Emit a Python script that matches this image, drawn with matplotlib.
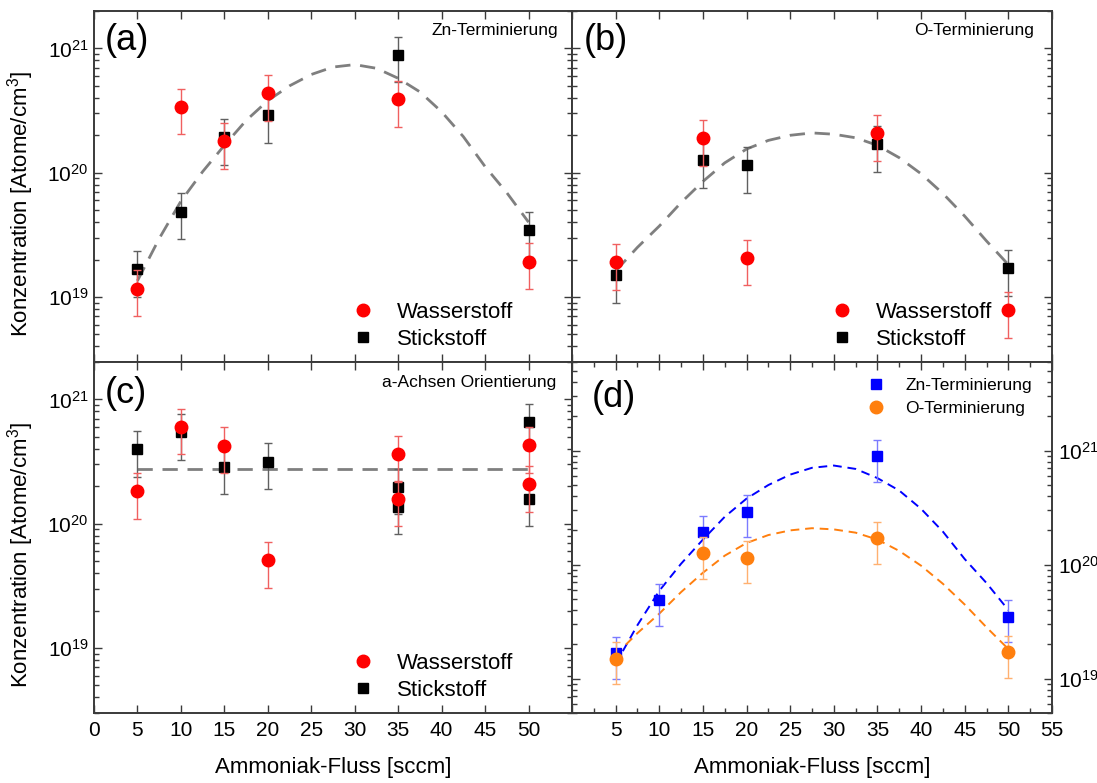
import numpy as np
import matplotlib
matplotlib.use("Agg")
import matplotlib.pyplot as plt
from matplotlib.ticker import FixedLocator, MultipleLocator, NullFormatter, LogFormatterMathtext

plt.rcParams['font.family'] = ['Liberation Sans', 'DejaVu Sans']
plt.rcParams['mathtext.fontset'] = 'custom'
plt.rcParams['mathtext.rm'] = 'Liberation Sans'
plt.rcParams['mathtext.it'] = 'Liberation Sans:italic'
plt.rcParams['mathtext.bf'] = 'Liberation Sans:bold'

# ---- data (Atome/cm^3 vs. Ammoniak-Fluss in sccm) ----
flow = [5, 10, 15, 20, 35, 50]

# (a) Zn-Terminierung
zn_h = [1.17e19, 3.39e20, 1.80e20, 4.34e20, 3.91e20, 1.93e19]
zn_n = [1.67e19, 4.87e19, 1.92e20, 2.90e20, 8.90e20, 3.48e19]

# (b) O-Terminierung
o_flow = [5, 15, 20, 35, 50]
o_h = [1.91e19, 1.90e20, 2.07e19, 2.08e20, 7.8e18]
o_n = [1.50e19, 1.26e20, 1.15e20, 1.70e20, 1.70e19]

# (c) a-Achsen Orientierung
a_flow = [5, 10, 15, 20, 35, 35, 50, 50]
a_h = [1.82e20, 6.03e20, 4.25e20, 5.06e19, 3.62e20, 1.59e20, 4.30e20, 2.08e20]
a_n = [3.97e20, 5.47e20, 2.88e20, 3.16e20, 1.98e20, 1.37e20, 6.58e20, 1.59e20]
a_level = 2.77e20

rel_err = 0.4

# dashed guide curves
fit_x = [5, 7.5, 10, 12.5, 15, 17.5, 20, 22.5, 25, 27.5, 30, 32.5, 35, 37.5,
         40, 42.5, 45, 47.5, 50]
fit_zn = [1.35e19, 2.95e19, 5.9e19, 1.02e20, 1.66e20, 2.63e20, 3.8e20, 5.0e20,
          6.17e20, 7.08e20, 7.41e20, 6.92e20, 5.75e20, 4.47e20, 3.09e20,
          1.95e20, 1.12e20, 6.9e19, 4.0e19]
fit_o = [1.62e19, 2.51e19, 3.72e19, 5.75e19, 8.5e19, 1.20e20, 1.55e20, 1.82e20,
         2.0e20, 2.09e20, 2.04e20, 1.91e20, 1.66e20, 1.32e20, 9.8e19, 6.8e19,
         4.47e19, 2.82e19, 1.82e19]

W, H = 1097, 783
fig = plt.figure(figsize=(W / 100, H / 100), dpi=100)

SPINE = '#3a3a3a'
RED = '#ff0000'
RED_ERR = '#f06060'
BLK_ERR = '#606060'
GREY_FIT = '#7f7f7f'

major_y = [10.0 ** e for e in range(17, 24)]
minor_y = [m * 10.0 ** e for e in range(17, 23) for m in range(2, 10)]


def panel(rect):
    return fig.add_axes([rect[0] / W, 1 - (rect[1] + rect[3]) / H, rect[2] / W, rect[3] / H])


def style(ax, ylim, xminor=False):
    ax.set_yscale('log')
    ax.set_xlim(0, 55)
    ax.set_ylim(*ylim)
    ax.set_xticks(range(0, 56, 5))
    if xminor:
        ax.xaxis.set_minor_locator(MultipleLocator(2.5))
    ax.yaxis.set_major_locator(FixedLocator(major_y))
    ax.yaxis.set_minor_locator(FixedLocator(minor_y))
    ax.yaxis.set_minor_formatter(NullFormatter())
    ax.yaxis.set_major_formatter(LogFormatterMathtext())
    ax.tick_params(which='both', direction='in', top=True, right=True,
                   color=SPINE, labelsize=15, pad=4)
    ax.tick_params(axis='x', pad=6)
    ax.tick_params(which='major', length=6, width=1)
    ax.tick_params(which='minor', length=3.5, width=1)
    for s in ax.spines.values():
        s.set_color(SPINE)
        s.set_linewidth(1.4)


def hn_points(ax, x, h, n):
    ax.errorbar(x, n, yerr=[rel_err * v for v in n], fmt='none', ecolor=BLK_ERR,
                elinewidth=1, capsize=3, capthick=1, zorder=2)
    ax.plot(x, n, 's', color='black', ms=7.5, label='Stickstoff', zorder=3)
    ax.errorbar(x, h, yerr=[rel_err * v for v in h], fmt='none', ecolor=RED_ERR,
                elinewidth=1, capsize=3, capthick=1, zorder=4)
    ax.plot(x, h, 'o', color=RED, ms=9, label='Wasserstoff', zorder=5)
    hs, ls = ax.get_legend_handles_labels()
    ax.legend(hs[::-1], ls[::-1], loc='lower left', bbox_to_anchor=(0.54, 0.035),
              frameon=False, fontsize=16, borderpad=0, borderaxespad=0,
              handlelength=1.0, handletextpad=1.0, labelspacing=0.25)


ylim_left = (3e18, 2e21)
ylim_d = (5e18, 6e21)
xt_left = [str(v) for v in range(0, 55, 5)] + ['']
xt_right = [''] + [str(v) for v in range(5, 56, 5)]
fit_style = dict(color=GREY_FIT, lw=2.0, dashes=(5.5, 3.5), zorder=1)

# (a)
ax_a = panel((94, 11, 478, 351))
style(ax_a, ylim_left)
ax_a.plot(fit_x, fit_zn, **fit_style)
hn_points(ax_a, flow, zn_h, zn_n)
ax_a.set_xticklabels([])
ax_a.set_ylabel('Konzentration [Atome/cm$^3$]', fontsize=16)
ax_a.yaxis.set_label_coords(-0.121, 0.45)
ax_a.text(0.023, 0.915, '(a)', transform=ax_a.transAxes, fontsize=26, va='center')
ax_a.text(0.972, 0.945, 'Zn-Terminierung', transform=ax_a.transAxes, fontsize=12.5,
          ha='right', va='center')

# (b)
ax_b = panel((572, 11, 480, 351))
style(ax_b, ylim_left)
ax_b.plot(fit_x, fit_o, **fit_style)
hn_points(ax_b, o_flow, o_h, o_n)
ax_b.set_xticklabels([])
ax_b.set_yticklabels([])
ax_b.text(0.025, 0.915, '(b)', transform=ax_b.transAxes, fontsize=26, va='center')
ax_b.text(0.962, 0.945, 'O-Terminierung', transform=ax_b.transAxes, fontsize=12.5,
          ha='right', va='center')

# (c)
ax_c = panel((94, 362, 478, 351))
style(ax_c, ylim_left)
ax_c.plot([a_flow[0], a_flow[-1]], [a_level, a_level], **fit_style)
hn_points(ax_c, a_flow, a_h, a_n)
ax_c.set_xticklabels(xt_left)
ax_c.set_xlabel('Ammoniak-Fluss [sccm]', fontsize=16, labelpad=12)
ax_c.set_ylabel('Konzentration [Atome/cm$^3$]', fontsize=16)
ax_c.yaxis.set_label_coords(-0.121, 0.45)
ax_c.text(0.023, 0.91, '(c)', transform=ax_c.transAxes, fontsize=26, va='center')
ax_c.text(0.967, 0.943, 'a-Achsen Orientierung', transform=ax_c.transAxes, fontsize=12.5,
          ha='right', va='center')

# (d)
ax_d = panel((572, 362, 480, 351))
style(ax_d, ylim_d, xminor=True)
ax_d.plot(fit_x, fit_zn, color='#0000ff', lw=1.4, dashes=(4.5, 3), zorder=1)
ax_d.plot(fit_x, fit_o, color='#ff7f0e', lw=1.4, dashes=(4.5, 3), zorder=1)
ax_d.errorbar(flow, zn_n, yerr=[rel_err * v for v in zn_n], fmt='none', ecolor='#7b7bff',
              elinewidth=1, capsize=3, capthick=1, zorder=2)
ax_d.plot(flow, zn_n, 's', color='#0000ff', ms=7.5, label='Zn-Terminierung', zorder=3)
ax_d.errorbar(o_flow, o_n, yerr=[rel_err * v for v in o_n], fmt='none', ecolor='#ffb070',
              elinewidth=1, capsize=3, capthick=1, zorder=4)
ax_d.plot(o_flow, o_n, 'o', color='#ff7f0e', ms=9, label='O-Terminierung', zorder=5)
ax_d.legend(loc='upper left', bbox_to_anchor=(0.615, 0.955), frameon=False, fontsize=12.5,
            borderpad=0, borderaxespad=0, handlelength=1.0, handletextpad=1.2,
            labelspacing=0.45)
ax_d.set_xticklabels(xt_right)
ax_d.yaxis.tick_right()
ax_d.tick_params(which='both', left=True, right=True, labelleft=False, labelright=True)
ax_d.set_xlabel('Ammoniak-Fluss [sccm]', fontsize=16, labelpad=12)
ax_d.text(0.042, 0.9, '(d)', transform=ax_d.transAxes, fontsize=26, va='center')

fig.savefig('out.png', dpi=100)
